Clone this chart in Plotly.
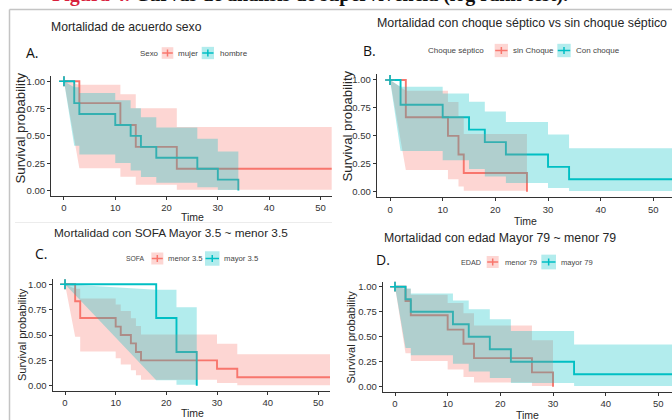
import plotly.graph_objects as go

W, H = 672, 420
RED, TEAL = "#F8766D", "#00BFC4"
RED_FILL, TEAL_FILL = "rgba(248,118,109,0.3)", "rgba(0,191,196,0.3)"
FONT = "Liberation Sans"

# ---------------- data (Kaplan-Meier estimates) ----------------
# Panel A: sexo
A_mujer_time = [0, 3, 11, 14, 22]
A_mujer_surv = [1.0, 0.8, 0.6, 0.4, 0.2]
A_mujer_lower = [1.0, 0.204, 0.126, 0.052, 0.008]
A_mujer_upper = [1.0, 0.969, 0.882, 0.753, 0.582]
A_mujer_end = 52.5

A_hombre_time = [0, 2, 3, 10, 13, 15, 18, 26, 30, 34]
A_hombre_surv = [1.0, 0.8, 0.7, 0.6, 0.5, 0.4, 0.3, 0.2, 0.1, 0.0]
A_hombre_lower = [1.0, 0.409, 0.329, 0.253, 0.184, 0.123, 0.071, 0.031, 0.006]
A_hombre_upper = [1.0, 0.946, 0.892, 0.827, 0.753, 0.670, 0.578, 0.475, 0.358]
A_hombre_end = 34

# Panel B: choque septico
B_sin_time = [0, 3, 11, 13, 14, 26]
B_sin_surv = [1.0, 0.667, 0.5, 0.333, 0.167, 0.0]
B_sin_lower = [1.0, 0.195, 0.111, 0.046, 0.008]
B_sin_upper = [1.0, 0.904, 0.804, 0.676, 0.517]
B_sin_end = 26

B_con_time = [0, 2, 10, 15, 18, 22, 30, 34]
B_con_surv = [1.0, 0.778, 0.667, 0.556, 0.444, 0.333, 0.222, 0.111]
B_con_lower = [1.0, 0.365, 0.282, 0.204, 0.136, 0.078, 0.034, 0.006]
B_con_upper = [1.0, 0.939, 0.878, 0.805, 0.719, 0.623, 0.513, 0.388]
B_con_end = 54

# Panel C: SOFA
C_menor_time = [0, 2, 3, 10, 11, 13, 14, 15, 30, 34]
C_menor_surv = [1.0, 0.833, 0.667, 0.583, 0.5, 0.417, 0.333, 0.25, 0.167, 0.083]
C_menor_lower = [1.0, 0.482, 0.337, 0.270, 0.209, 0.152, 0.103, 0.060, 0.027, 0.005]
C_menor_upper = [1.0, 0.956, 0.860, 0.801, 0.736, 0.665, 0.588, 0.505, 0.413, 0.311]
C_menor_end = 52.5

C_mayor_time = [0, 18, 22, 26]
C_mayor_surv = [1.0, 0.667, 0.333, 0.0]
C_mayor_lower = [1.0, 0.054, 0.009]
C_mayor_upper = [1.0, 0.945, 0.774]
C_mayor_end = 26

# Panel D: edad
D_menor_time = [0, 2, 3, 10, 13, 15, 26, 30]
D_menor_surv = [1.0, 0.857, 0.714, 0.571, 0.429, 0.286, 0.143, 0.0]
D_menor_lower = [1.0, 0.334, 0.258, 0.172, 0.098, 0.041, 0.007]
D_menor_upper = [1.0, 0.979, 0.920, 0.837, 0.734, 0.611, 0.465]
D_menor_end = 30

D_mayor_time = [0, 2, 3, 11, 14, 18, 22, 34]
D_mayor_surv = [1.0, 0.875, 0.75, 0.625, 0.5, 0.375, 0.25, 0.125]
D_mayor_lower = [1.0, 0.387, 0.315, 0.229, 0.152, 0.087, 0.037, 0.007]
D_mayor_upper = [1.0, 0.981, 0.931, 0.861, 0.775, 0.674, 0.558, 0.423]
D_mayor_end = 53

x_ticks = [0, 10, 20, 30, 40, 50]
y_ticks = [0, 0.25, 0.5, 0.75, 1.0]
y_tick_labels = ["0.00", "0.25", "0.50", "0.75", "1.00"]

titles = ["Mortalidad de acuerdo sexo",
          "Mortalidad con choque séptico vs sin choque séptico",
          "Mortalidad con SOFA Mayor 3.5 ~ menor 3.5",
          "Mortalidad con edad Mayor 79 ~ menor 79"]
letters = ["A.", "B.", "C.", "D."]
legend_titles = ["Sexo", "Choque séptico", "SOFA", "EDAD"]
legend_labels = [["mujer", "hombre"], ["sin Choque", "Con choque"],
                 ["menor 3.5", "mayor 3.5"], ["menor 79", "mayor 79"]]
fig_title_red = "Figura 4."
fig_title_black = "Curvas de análisis de supervivencia (log rank test)."

groups = [
    [(A_mujer_time, A_mujer_surv, A_mujer_lower, A_mujer_upper, A_mujer_end),
     (A_hombre_time, A_hombre_surv, A_hombre_lower, A_hombre_upper, A_hombre_end)],
    [(B_sin_time, B_sin_surv, B_sin_lower, B_sin_upper, B_sin_end),
     (B_con_time, B_con_surv, B_con_lower, B_con_upper, B_con_end)],
    [(C_menor_time, C_menor_surv, C_menor_lower, C_menor_upper, C_menor_end),
     (C_mayor_time, C_mayor_surv, C_mayor_lower, C_mayor_upper, C_mayor_end)],
    [(D_menor_time, D_menor_surv, D_menor_lower, D_menor_upper, D_menor_end),
     (D_mayor_time, D_mayor_surv, D_mayor_lower, D_mayor_upper, D_mayor_end)],
]

# ---------------- layout geometry (pixels) ----------------
panels = [
    dict(xd=(51, 331.7), yd=(75.8, 196), xr=(-2.53, 52.2),
         title=(126, 27, 12.2), letter=(32, 52), ylab=(19.5, 128, 13.2), xlab=(192, 217),
         leg_y=53, leg_title_x=139, keys=[(161.7, 173.3), (201.7, 214)], labs=[177, 219],
         leg_fs=8, leg_tfs=7.9),
    dict(xd=(376.7, 672), yd=(74.4, 197.3), xr=(-2.53, 53.54),
         title=(522, 23, 12.4), letter=(369, 50), ylab=(346.5, 126, 13.2), xlab=(525, 221),
         leg_y=50.5, leg_title_x=427, keys=[(494.7, 508), (557.3, 570.7)], labs=[512, 575],
         leg_fs=8, leg_tfs=8),
    dict(xd=(52.5, 330), yd=(279.2, 390.8), xr=(-2.47, 52.3),
         title=(171, 233, 11.8), letter=(41, 253), ylab=(22, 335, 11), xlab=(192, 413),
         leg_y=258.5, leg_title_x=125, keys=[(151.3, 163.3), (205, 219.5)], labs=[166.7, 222.7],
         leg_fs=7.7, leg_tfs=6.8),
    dict(xd=(382.7, 672), yd=(281.7, 391.7), xr=(-2.335, 52.59),
         title=(500, 238, 12.3), letter=(383, 259), ylab=(350, 337.5, 11), xlab=(527, 415),
         leg_y=262, leg_title_x=460, keys=[(486.7, 498.7), (541.3, 556)], labs=[504, 560],
         leg_fs=7.6, leg_tfs=7.2),
]


def px(x):
    return x / W


def py(y):
    return 1 - y / H


def step_xy(time, surv, end):
    xs, ys = list(time), list(surv)
    if end > xs[-1]:
        xs.append(end)
        ys.append(ys[-1])
    return xs, ys


def band_xy(time, lower, upper, end):
    k = len(lower)
    ux, uy = [time[0], time[1]], [upper[0], upper[1]]
    lx, ly = [time[0], time[1]], [lower[0], lower[1]]
    for i in range(2, k):
        ux += [time[i], time[i]]
        uy += [upper[i - 1], upper[i]]
        lx += [time[i], time[i]]
        ly += [lower[i - 1], lower[i]]
    ux.append(end)
    uy.append(upper[k - 1])
    lx.append(end)
    ly.append(lower[k - 1])
    return ux + lx[::-1], uy + ly[::-1]


fig = go.Figure()
annotations = []
shapes = []


def ann(text, x, y, size, color="#222", xanchor="center", yanchor="middle", angle=0, family=FONT):
    annotations.append(dict(text=text, x=px(x), y=py(y), xref="paper", yref="paper",
                            xanchor=xanchor, yanchor=yanchor, showarrow=False, textangle=angle,
                            borderpad=0, font=dict(size=size, color=color, family=family)))


colors = [RED, TEAL]
fills = [RED_FILL, TEAL_FILL]

for n, (p, grp) in enumerate(zip(panels, groups), start=1):
    xa = "x" if n == 1 else f"x{n}"
    ya = "y" if n == 1 else f"y{n}"
    # step lines
    for g, c in zip(grp, colors):
        xs, ys = step_xy(g[0], g[1], g[4])
        fig.add_trace(go.Scatter(x=xs, y=ys, mode="lines", line=dict(color=c, width=1.9, shape="hv"),
                                 xaxis=xa, yaxis=ya, hoverinfo="skip"))
    # confidence ribbons
    for g, f in zip(grp, fills):
        end = g[4] if g[1][-1] > 0 else g[0][-1]
        bx, by = band_xy(g[0], g[2], g[3], end)
        fig.add_trace(go.Scatter(x=bx, y=by, mode="lines", fill="toself", fillcolor=f,
                                 line=dict(width=0, color=f), xaxis=xa, yaxis=ya, hoverinfo="skip"))
    # censor marks
    for g, c in zip(grp, colors):
        fig.add_trace(go.Scatter(x=[g[0][0]], y=[g[1][0]], mode="markers",
                                 marker=dict(symbol="cross-thin", size=7, line=dict(color=c, width=1.6)),
                                 xaxis=xa, yaxis=ya, hoverinfo="skip", cliponaxis=False))

    axis_common = dict(showline=True, linecolor="#333", linewidth=1, ticks="outside", ticklen=3,
                       tickcolor="#333", tickwidth=1, showgrid=False, zeroline=False,
                       tickfont=dict(size=9.5, color="#333", family=FONT))
    fig.update_layout(**{
        ("xaxis" if n == 1 else f"xaxis{n}"): dict(
            domain=[px(p["xd"][0]), px(p["xd"][1])], range=list(p["xr"]), anchor=ya,
            tickvals=x_ticks, **axis_common),
        ("yaxis" if n == 1 else f"yaxis{n}"): dict(
            domain=[py(p["yd"][1]), py(p["yd"][0])], range=[-0.05, 1.05], anchor=xa,
            tickvals=y_ticks, ticktext=y_tick_labels, **axis_common),
    })

    i = n - 1
    tx, ty, ts = p["title"]
    ann(titles[i], tx, ty, ts, color="#262626")
    ann(letters[i], p["letter"][0], p["letter"][1], 14, color="#111", family="Open Sans")
    ann("Survival probability", p["ylab"][0], p["ylab"][1], p["ylab"][2], color="#262626", angle=-90)
    ann("Time", p["xlab"][0], p["xlab"][1], 10.5, color="#262626")
    # legend
    ly = p["leg_y"]
    ann(legend_titles[i], p["leg_title_x"], ly, p["leg_tfs"], color="#444", xanchor="left")
    for (k0, k1), lab_x, lab, c, f in zip(p["keys"], p["labs"], legend_labels[i], colors, fills):
        half = (k1 - k0) / 2
        shapes.append(dict(type="rect", xref="paper", yref="paper", x0=px(k0), x1=px(k1),
                           y0=py(ly + half), y1=py(ly - half), fillcolor=f, line=dict(width=0), layer="above"))
        shapes.append(dict(type="line", xref="paper", yref="paper", x0=px(k0 + 0.5), x1=px(k1 - 0.5),
                           y0=py(ly), y1=py(ly), line=dict(color=c, width=1.5), layer="above"))
        cx = (k0 + k1) / 2
        shapes.append(dict(type="line", xref="paper", yref="paper", x0=px(cx), x1=px(cx),
                           y0=py(ly - 3.5), y1=py(ly + 3.5), line=dict(color=c, width=1.5), layer="above"))
        ann(lab, lab_x, ly, p["leg_fs"], color="#444", xanchor="left")

# frame of the embedded figure
shapes.append(dict(type="line", xref="paper", yref="paper", x0=px(9.5), x1=px(672), y0=py(9.5), y1=py(9.5),
                   line=dict(color="#c4c4c4", width=1.5), layer="above"))
shapes.append(dict(type="line", xref="paper", yref="paper", x0=px(9.5), x1=px(9.5), y0=py(9.5), y1=py(420),
                   line=dict(color="#c4c4c4", width=1.5), layer="above"))
shapes.append(dict(type="line", xref="paper", yref="paper", x0=px(15), x1=px(332), y0=py(222.5), y1=py(222.5),
                   line=dict(color="#ececec", width=1), layer="below"))

# cut-off figure caption at the very top
annotations.append(dict(
    text=f'<b><span style="color:#d81f3d">{fig_title_red}</span> {fig_title_black}</b>',
    x=px(50), y=py(-5.5), xref="paper", yref="paper", xanchor="left", yanchor="middle",
    showarrow=False, font=dict(size=20, color="#111", family="Liberation Serif")))

fig.update_layout(width=W, height=H, autosize=False, margin=dict(l=0, r=0, t=0, b=0),
                  paper_bgcolor="white", plot_bgcolor="white", showlegend=False,
                  annotations=annotations, shapes=shapes)

fig.write_html("out.html", config={"displayModeBar": False})
